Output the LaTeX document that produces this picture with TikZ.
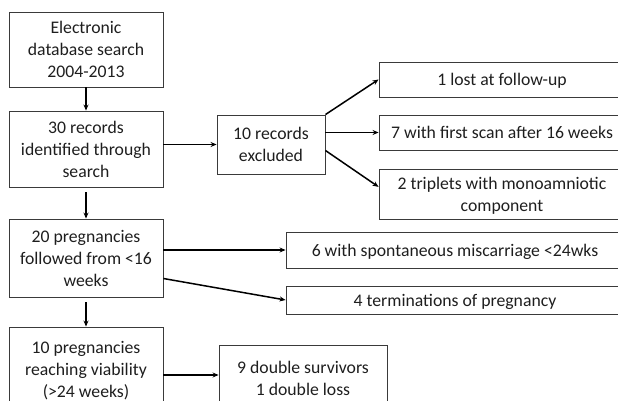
\documentclass[tikz,border=0pt]{standalone}
\usepackage{fontspec}
\setmainfont{Carlito}
\usepackage{tikz}
\usetikzlibrary{arrows.meta,calc,positioning}
\definecolor{BoxLine}{HTML}{3A3A3A}
\definecolor{DarkText}{HTML}{1E1E1E}

\begin{document}
\begin{tikzpicture}[
  x=1pt,y=-1pt,
  every node/.style={
    draw=BoxLine,line width=0.9pt,inner sep=0pt,
    align=center,text=DarkText,text depth=-4pt,
    font=\fontsize{17.7}{22}\selectfont
  },
  box/.style={minimum width=154pt,minimum height=#1},
  side/.style={minimum width=246pt,minimum height=#1},
  wide/.style={minimum width=338pt,minimum height=#1},
  arr/.style={-{Stealth[length=6pt,width=5pt]},line width=1.5pt,black}
]
  \useasboundingbox (0,0) rectangle (618,401);
  \clip (0,0) rectangle (618,401);

  % left column
  \node[box=75pt,text depth=-10pt] (search) at (86,49.5) {Electronic\\database search\\2004-2013};
  \node[box=76pt]  (records)  at (86,149)   {30 records\\identified through\\search};
  \node[box=78pt]  (followed) at (86,258)   {20 pregnancies\\followed from <16\\weeks};
  \node[box=84pt]  (viable)   at (86,369)   {10 pregnancies\\reaching viability\\(>24 weeks)};

  % exclusions
  \node[minimum width=108pt,minimum height=59pt] (excluded) at (271,144.5) {10 records\\excluded};
  \node[side=35pt] (lost)     at (502,79.5)  {1 lost at follow-up};
  \node[side=35pt] (latescan) at (502,132.5) {7 with first scan after 16 weeks};
  \node[side=50pt] (triplets) at (502,194)   {2 triplets with monoamniotic\\component};

  % losses and outcome
  \node[wide=36pt] (miscarriage)  at (455,250) {6 with spontaneous miscarriage <24wks};
  \node[wide=28pt] (terminations) at (455,300) {4 terminations of pregnancy};
  \node[minimum width=168pt,minimum height=66pt] (outcome) at (303,378) {9 double survivors\\1 double loss};

  \draw[arr] (search) -- (records);
  \draw[arr] ([yshift=-5pt]records.south) -- (followed);
  \draw[arr] ([yshift=-5pt]followed.south) -- (viable);

  \draw[arr] (records.east |- excluded.west) -- (excluded);
  \draw[arr] (excluded.north east) -- (lost.west);
  \draw[arr] (excluded.east |- latescan.west) -- (latescan);
  \draw[arr] ($(excluded.north east)!0.6!(excluded.south east)$)
    -- ($(triplets.north west)!0.36!(triplets.south west)$);

  \draw[arr] (followed.east |- miscarriage.west) -- (miscarriage);
  \draw[arr] ($(followed.north east)!0.76!(followed.south east)$) -- (terminations.west);
  \draw[arr] (viable.east |- 0,375) -- (outcome.west |- 0,375);
\end{tikzpicture}
\end{document}
